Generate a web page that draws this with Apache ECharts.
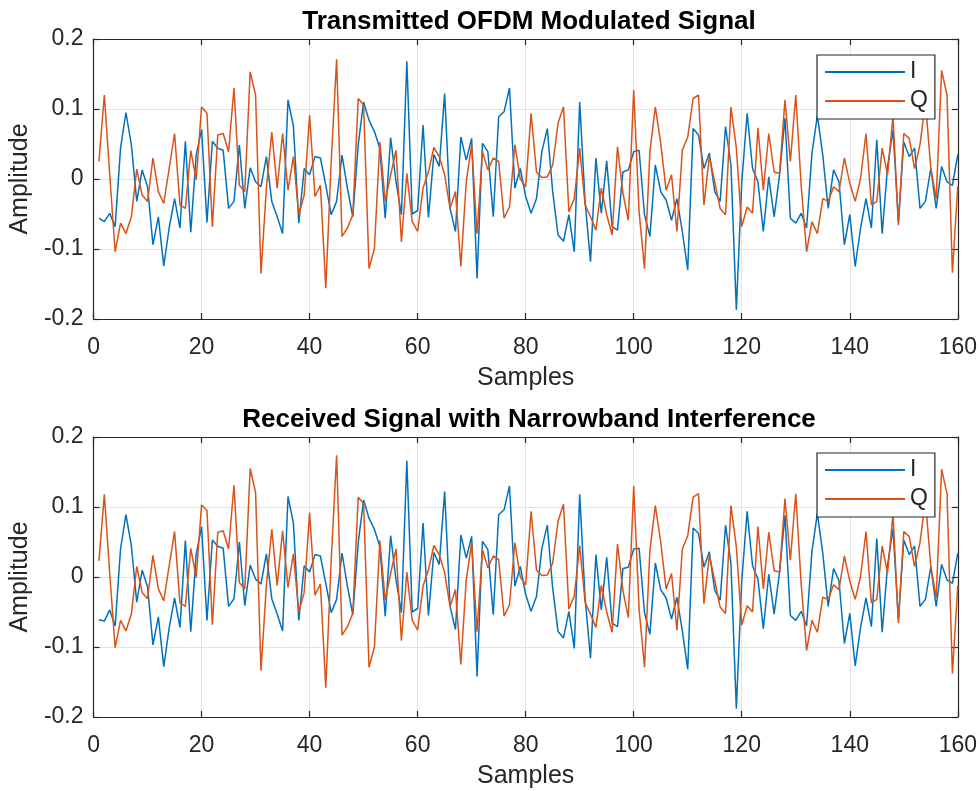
<!DOCTYPE html>
<html>
<head>
<meta charset="utf-8">
<script src="https://cdn.jsdelivr.net/npm/echarts@6/dist/echarts.min.js"></script>
<style>html,body{margin:0;padding:0;background:#fff}#chart{width:980px;height:791px}</style>
</head>
<body>
<div id="chart"></div>
<script>
const titles = ['Transmitted OFDM Modulated Signal', 'Received Signal with Narrowband Interference'];
const seriesNames = ['I', 'Q'];
const xTicks = [0, 20, 40, 60, 80, 100, 120, 140, 160];
const yTicks = [-0.2, -0.1, 0, 0.1, 0.2];
const sampleIndex = Array.from({length: 160}, (_, i) => i + 1);

const txI = [
-0.056,-0.061,-0.049,-0.068,0.044,0.095,0.049,-0.032,0.013,-0.011,
-0.094,-0.054,-0.124,-0.070,-0.028,-0.070,0.054,-0.076,0.034,0.071,
-0.062,0.054,0.044,0.041,-0.042,-0.032,0.049,-0.042,0.016,-0.004,
-0.011,0.032,-0.032,-0.054,-0.078,0.113,0.076,-0.063,0.015,0.006,
0.032,0.030,-0.009,-0.051,-0.032,0.034,-0.013,-0.054,0.049,0.110,
0.084,0.068,0.044,-0.056,0.059,-0.004,-0.051,0.168,-0.050,-0.045,
0.077,-0.055,0.035,0.018,0.122,-0.042,-0.075,0.060,0.027,0.058,
-0.142,0.051,0.039,-0.054,0.089,0.096,0.130,-0.013,0.015,-0.025,
-0.049,-0.028,0.039,0.072,-0.018,-0.080,-0.089,-0.051,-0.104,0.110,
-0.032,-0.118,0.030,-0.049,0.026,-0.068,-0.073,0.010,0.013,0.039,
0.041,-0.051,-0.082,0.020,-0.018,-0.030,-0.059,-0.028,-0.075,-0.130,
0.072,0.063,0.015,0.037,-0.018,-0.032,0.075,0.020,-0.187,-0.005,
0.094,0.015,-0.004,-0.075,0.003,-0.054,0.006,0.087,-0.056,-0.063,
-0.049,-0.070,0.037,0.091,0.034,-0.042,0.013,-0.004,-0.094,-0.051,
-0.125,-0.070,-0.028,-0.070,0.056,-0.078,0.018,0.070,-0.061,0.053,
0.032,0.044,-0.042,-0.032,0.015,-0.042,0.018,-0.004,-0.009,0.035
];
const txQ = [
0.025,0.120,0.006,-0.104,-0.063,-0.078,-0.054,0.014,-0.023,-0.032,
0.030,-0.018,-0.035,0.015,0.065,-0.037,-0.042,0.041,-0.001,0.103,
0.094,-0.068,0.063,0.065,0.039,0.130,-0.009,-0.018,0.153,0.120,
-0.135,-0.013,0.067,-0.013,0.065,-0.016,0.032,-0.051,-0.023,0.091,
-0.025,-0.009,-0.156,0.025,0.171,-0.082,-0.070,-0.051,0.115,0.106,
-0.128,-0.099,0.053,-0.032,0.006,0.041,-0.090,0.008,-0.061,-0.075,
-0.013,0.010,0.045,0.032,0.006,-0.042,-0.018,-0.125,-0.004,0.049,
-0.078,0.039,0.013,0.030,0.025,-0.056,-0.040,0.049,0.000,-0.011,
0.094,0.010,0.002,0.003,0.020,0.080,0.103,-0.047,-0.028,0.044,
-0.037,-0.054,-0.073,-0.013,-0.051,-0.080,0.046,-0.020,-0.059,0.127,
-0.047,-0.128,0.039,0.103,0.051,-0.016,0.006,-0.075,0.041,0.060,
0.115,0.120,-0.037,0.032,-0.004,-0.042,-0.051,0.103,0.044,-0.068,
-0.040,-0.049,0.073,-0.016,0.065,0.010,0.008,0.113,0.025,0.120,
-0.009,-0.104,-0.061,-0.078,-0.028,-0.032,-0.011,-0.018,0.030,-0.006,
-0.032,0.001,0.065,-0.037,-0.032,0.044,0.006,0.090,-0.066,0.065,
0.058,0.015,0.049,0.110,0.015,-0.028,0.155,0.120,-0.134,-0.010
];
const rxI = [
-0.061,-0.063,-0.047,-0.070,0.040,0.089,0.045,-0.036,0.010,-0.014,
-0.097,-0.057,-0.128,-0.073,-0.030,-0.072,0.052,-0.078,0.032,0.072,
-0.062,0.053,0.044,0.041,-0.042,-0.031,0.050,-0.041,0.017,-0.003,
-0.010,0.033,-0.031,-0.053,-0.077,0.115,0.077,-0.062,0.016,0.007,
0.032,0.030,-0.009,-0.051,-0.032,0.034,-0.013,-0.054,0.049,0.110,
0.084,0.068,0.044,-0.056,0.059,-0.004,-0.051,0.166,-0.050,-0.045,
0.077,-0.055,0.035,0.018,0.122,-0.042,-0.075,0.060,0.027,0.058,
-0.142,0.051,0.039,-0.054,0.089,0.096,0.130,-0.013,0.015,-0.025,
-0.049,-0.028,0.041,0.074,-0.016,-0.078,-0.087,-0.049,-0.102,0.118,
-0.030,-0.116,0.032,-0.047,0.028,-0.066,-0.071,0.012,0.014,0.040,
0.041,-0.051,-0.082,0.020,-0.018,-0.030,-0.060,-0.029,-0.077,-0.132,
0.070,0.062,0.014,0.036,-0.019,-0.033,0.074,0.019,-0.188,-0.006,
0.094,0.016,-0.003,-0.074,0.004,-0.053,0.007,0.088,-0.055,-0.062,
-0.049,-0.070,0.037,0.091,0.034,-0.042,0.012,-0.005,-0.095,-0.052,
-0.127,-0.072,-0.030,-0.071,0.055,-0.079,0.017,0.069,-0.061,0.053,
0.032,0.044,-0.042,-0.032,0.015,-0.042,0.018,-0.004,-0.009,0.034
];
const rxQ = [
0.023,0.118,0.005,-0.101,-0.062,-0.077,-0.053,0.015,-0.022,-0.031,
0.031,-0.017,-0.034,0.016,0.065,-0.037,-0.042,0.041,-0.001,0.103,
0.095,-0.068,0.064,0.066,0.040,0.131,-0.008,-0.017,0.155,0.121,
-0.134,-0.012,0.068,-0.012,0.066,-0.015,0.033,-0.050,-0.022,0.092,
-0.026,-0.010,-0.158,0.024,0.174,-0.083,-0.071,-0.052,0.114,0.105,
-0.129,-0.100,0.052,-0.033,0.005,0.040,-0.091,0.007,-0.062,-0.076,
-0.013,0.010,0.045,0.032,0.006,-0.042,-0.018,-0.125,-0.004,0.049,
-0.078,0.039,0.013,0.030,0.025,-0.056,-0.040,0.049,0.000,-0.011,
0.094,0.010,0.002,0.003,0.020,0.080,0.104,-0.046,-0.027,0.045,
-0.036,-0.053,-0.072,-0.012,-0.050,-0.079,0.047,-0.019,-0.058,0.130,
-0.046,-0.129,0.038,0.102,0.050,-0.017,0.005,-0.076,0.040,0.059,
0.114,0.119,-0.038,0.031,-0.005,-0.043,-0.052,0.102,0.043,-0.069,
-0.041,-0.050,0.072,-0.017,0.064,0.009,0.007,0.112,0.024,0.119,
-0.010,-0.105,-0.062,-0.079,-0.029,-0.032,-0.011,-0.018,0.030,-0.006,
-0.032,0.001,0.065,-0.037,-0.032,0.044,0.006,0.090,-0.066,0.065,
0.058,0.015,0.049,0.110,0.015,-0.029,0.154,0.119,-0.138,-0.012
];

const FONT = '"Liberation Sans", Arial, Helvetica, sans-serif';
const AX = '#262626';
const BLUE = '#0072BD';
const ORANGE = '#D95319';

const chart = echarts.init(document.getElementById('chart'), null, {renderer: 'canvas'});

const gridTops = [39, 437];
const xMin = xTicks[0], xMax = xTicks[xTicks.length - 1], xInt = xTicks[1] - xTicks[0];
const yMin = yTicks[0], yMax = yTicks[yTicks.length - 1], yInt = 0.1;

function pairs(arr) { return arr.map((v, i) => [sampleIndex[i], v]); }

const xAxes = [], yAxes = [];
[0, 1].forEach(g => {
  xAxes.push({
    gridIndex: g, type: 'value', min: xMin, max: xMax, interval: xInt, position: 'bottom',
    name: 'Samples', nameLocation: 'middle', nameGap: 47,
    nameTextStyle: {fontFamily: FONT, fontSize: 25, color: AX},
    axisLine: {show: true, onZero: false, lineStyle: {color: AX, width: 1.2}},
    axisTick: {show: true, inside: true, length: 6, lineStyle: {color: AX, width: 1.2}},
    axisLabel: {show: true, margin: 17, fontFamily: FONT, fontSize: 23, color: AX},
    splitLine: {show: true, lineStyle: {color: '#e3e3e3', width: 1}}
  });
  xAxes.push({
    gridIndex: g, type: 'value', min: xMin, max: xMax, interval: xInt, position: 'top',
    axisLine: {show: true, onZero: false, lineStyle: {color: AX, width: 1.2}},
    axisTick: {show: true, inside: true, length: 6, lineStyle: {color: AX, width: 1.2}},
    axisLabel: {show: false}, splitLine: {show: false}
  });
  yAxes.push({
    gridIndex: g, type: 'value', min: yMin, max: yMax, interval: yInt, position: 'left',
    name: 'Amplitude', nameLocation: 'middle', nameGap: 56, nameRotate: 90,
    nameTextStyle: {fontFamily: FONT, fontSize: 25, color: AX},
    axisLine: {show: true, onZero: false, lineStyle: {color: AX, width: 1.2}},
    axisTick: {show: true, inside: true, length: 6, lineStyle: {color: AX, width: 1.2}},
    axisLabel: {show: true, margin: 10, fontFamily: FONT, fontSize: 23, color: AX,
      formatter: v => String(Math.round(v * 10) / 10)},
    splitLine: {show: true, lineStyle: {color: '#e3e3e3', width: 1}}
  });
  yAxes.push({
    gridIndex: g, type: 'value', min: yMin, max: yMax, interval: yInt, position: 'right',
    axisLine: {show: true, onZero: false, lineStyle: {color: AX, width: 1.2}},
    axisTick: {show: true, inside: true, length: 6, lineStyle: {color: AX, width: 1.2}},
    axisLabel: {show: false}, splitLine: {show: false}
  });
});

function line(name, data, color, g) {
  return {
    name: name, type: 'line', xAxisIndex: g * 2, yAxisIndex: g * 2,
    data: pairs(data), symbol: 'none', showSymbol: false,
    lineStyle: {color: color, width: 1.5}, itemStyle: {color: color},
    animation: false, silent: true
  };
}

function legend(top) {
  return {
    show: true, orient: 'vertical', left: 817, top: top,
    data: seriesNames, icon: 'rect', itemWidth: 80, itemHeight: 2, itemGap: 5,
    padding: [5, 7, 6, 8], backgroundColor: '#fff', borderColor: AX, borderWidth: 1.2,
    selectedMode: false,
    textStyle: {fontFamily: FONT, fontSize: 23, color: AX, lineHeight: 24}
  };
}

chart.setOption({
  animation: false,
  backgroundColor: '#fff',
  title: [
    {text: titles[0], left: 524, top: 4, textAlign: 'center',
      textStyle: {fontFamily: FONT, fontSize: 26, fontWeight: 'bold', color: '#000'}},
    {text: titles[1], left: 524, top: 402, textAlign: 'center',
      textStyle: {fontFamily: FONT, fontSize: 26, fontWeight: 'bold', color: '#000'}}
  ],
  grid: [
    {left: 90, top: gridTops[0], width: 868, height: 280},
    {left: 90, top: gridTops[1], width: 868, height: 280}
  ],
  legend: [legend(55), legend(453)],
  xAxis: xAxes,
  yAxis: yAxes,
  series: [
    line(seriesNames[0], txI, BLUE, 0),
    line(seriesNames[1], txQ, ORANGE, 0),
    line(seriesNames[0], rxI, BLUE, 1),
    line(seriesNames[1], rxQ, ORANGE, 1)
  ]
});
</script>
</body>
</html>
